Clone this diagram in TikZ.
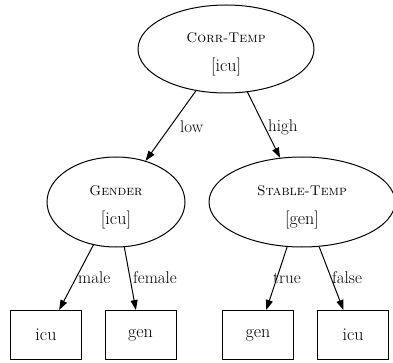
\documentclass[tikz,border=0pt]{standalone}
\usetikzlibrary{shapes.geometric,arrows.meta}
\newcommand{\sctitle}[1]{\rule{0pt}{20pt}{\fontsize{14}{17}\selectfont\textsc{#1}}}
\begin{document}
\begin{tikzpicture}[x=1pt,y=-1pt,
  every node/.style={font=\fontsize{18}{21}\selectfont},
  ell/.style={draw,line width=1pt,ellipse,inner sep=0pt,align=center},
  leaf/.style={draw,line width=1pt,rectangle,minimum width=71pt,minimum height=49pt,inner sep=0pt},
  lbl/.style={anchor=west,inner sep=0pt,font=\fontsize{17}{20}\selectfont},
  edge/.style={line width=1pt,-{Triangle[length=10pt,width=7pt]}}]
\useasboundingbox (0,0) rectangle (393,363);
\node[ell,minimum width=176pt,minimum height=88pt] (root) at (226,49) {\sctitle{Corr-Temp}\\[8pt][icu]};
\node[ell,minimum width=138pt,minimum height=90pt] (gender) at (116,202) {\sctitle{Gender}\\[8pt][icu]};
\node[ell,minimum width=186pt,minimum height=90pt] (stable) at (302,202) {\sctitle{Stable-Temp}\\[8pt][gen]};
\node[leaf] (b1) at (46,335) {icu};
\node[leaf] (b2) at (140.5,335) {gen};
\node[leaf] (b3) at (258,335) {gen};
\node[leaf] (b4) at (353,335) {icu};
\draw[edge] (root) -- (gender);
\draw[edge] (root) -- (stable);
\draw[edge] (gender) -- (b1);
\draw[edge] (gender) -- (b2);
\draw[edge] (stable) -- (b3);
\draw[edge] (stable) -- (b4);
\node[lbl] (llow) at (180,127) {low};
\node[lbl] (lhigh) at (268,127) {high};
\node[lbl] (lmale) at (78,278) {male};
\node[lbl] (lfemale) at (133,278) {female};
\node[lbl] (ltrue) at (273,278) {true};
\node[lbl] (lfalse) at (332,278) {false};
\end{tikzpicture}
\end{document}
